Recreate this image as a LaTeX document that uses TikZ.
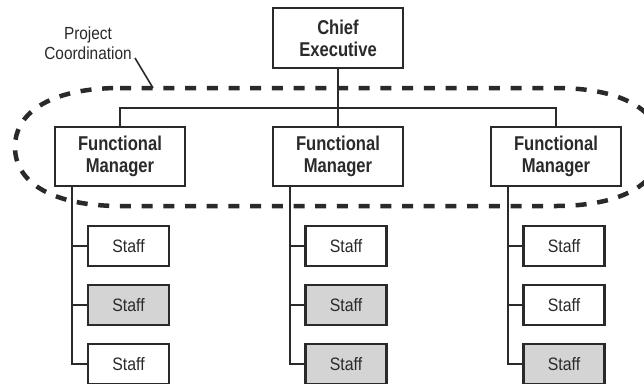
\documentclass[tikz,border=0pt]{standalone}
\usepackage{fontspec}
\setmainfont{Liberation Sans}
\newfontfamily\bfont[FakeStretch=0.83]{Liberation Sans}
\newfontfamily\rfont[FakeStretch=0.88]{Liberation Sans}
\definecolor{ink}{HTML}{2A2A2A}
\definecolor{shade}{HTML}{D4D4D4}
\begin{document}
\begin{tikzpicture}[x=1pt,y=-1pt,
  mgrbox/.style={draw=ink,line width=2.2pt,fill=white,minimum width=130pt,minimum height=59pt,
    inner sep=0pt,align=center,text=ink,font=\bfont\bfseries\fontsize{20}{22}\selectfont},
  staffbox/.style={draw=ink,line width=2.2pt,fill=white,minimum width=81pt,minimum height=40pt,
    inner sep=0pt,text=ink,font=\rfont\fontsize{18}{20}\selectfont},
  grey/.style={fill=shade},
  link/.style={draw=ink,line width=2pt},
  ring/.style={draw=ink,line width=4.5pt,dash pattern=on 11pt off 10.7pt}
]
\useasboundingbox (0,0) rectangle (644,383);
\fill[white] (0,0) rectangle (644,383);

% dashed project coordination ring
\draw[ring] (120,88) -- (556,88) .. controls (621,88) and (661,110) .. (661,147)
  .. controls (661,184) and (621,206) .. (556,206) -- (120,206)
  .. controls (55,206) and (15,184) .. (15,147)
  .. controls (15,110) and (55,88) .. (120,88) -- cycle;

% managers
\node[mgrbox,minimum height=60pt] (ce) at (338,38) {Chief\\Executive};
\node[mgrbox] (fm1) at (120,156.5) {Functional\\Manager};
\node[mgrbox] (fm2) at (338,156.5) {Functional\\Manager};
\node[mgrbox] (fm3) at (556,156.5) {Functional\\Manager};

\coordinate (bus) at (338,108);
\draw[link] (ce.south) -- (fm2.north);
\draw[link] (fm1.north) |- (bus) -| (fm3.north);

% staff
\node[staffbox] (s11) at (128.5,246) {Staff};
\node[staffbox,grey] (s12) at (128.5,305) {Staff};
\node[staffbox] (s13) at (128.5,364) {Staff};
\node[staffbox] (s21) at (346,246) {Staff};
\node[staffbox,grey] (s22) at (346,305) {Staff};
\node[staffbox,grey] (s23) at (346,364) {Staff};
\node[staffbox] (s31) at (564,246) {Staff};
\node[staffbox] (s32) at (564,305) {Staff};
\node[staffbox,grey] (s33) at (564,364) {Staff};

\coordinate (v1) at (72,186);
\coordinate (v2) at (290,186);
\coordinate (v3) at (508,186);
\foreach \i in {1,2,3}{
  \draw[link] (v\i) |- (s\i3.west);
  \draw[link] (s\i1.west) -- (s\i1.west -| v\i);
  \draw[link] (s\i2.west) -- (s\i2.west -| v\i);
}

% label
\node[text=ink,font=\rfont\fontsize{17.5}{20}\selectfont,align=center,inner sep=0pt] (lbl) at (88,43) {Project\\Coordination};
\coordinate (lblend) at (153,88);
\draw[ink,line width=1.6pt] (135,58) -- (lblend);
\end{tikzpicture}
\end{document}
